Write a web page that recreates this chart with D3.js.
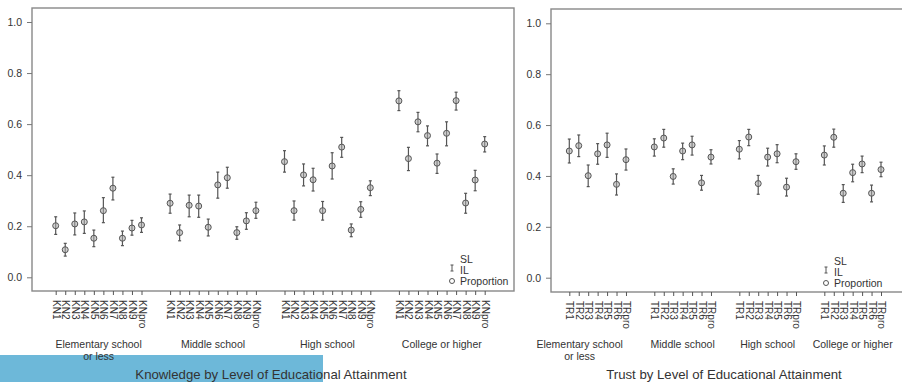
<!DOCTYPE html>
<html>
<head>
<meta charset="utf-8">
<script src="https://cdn.jsdelivr.net/npm/d3@7"></script>
<style>
  body { margin: 0; background: #fff; }
  svg text { font-family: "Liberation Sans", Arial, sans-serif; fill: #333; }
</style>
</head>
<body>
<div id="chart"></div>
<script>
// Groups and item names
const eduGroups = [["Elementary school", "or less"], ["Middle school"], ["High school"], ["College or higher"]];
const knItems = ["KN1", "KN2", "KN3", "KN4", "KN5", "KN6", "KN7", "KN8", "KN9", "KNpro"];
const trItems = ["TR1", "TR2", "TR3", "TR4", "TR5", "TR6", "TRpro"];
const yTicks = [0, 0.2, 0.4, 0.6, 0.8, 1.0];

// Knowledge: proportion, IL (lower) and SL (upper) per group
const knProp = [
    [0.202, 0.108, 0.209, 0.217, 0.153, 0.261, 0.349, 0.153, 0.193, 0.205],
    [0.290, 0.175, 0.282, 0.279, 0.196, 0.362, 0.390, 0.175, 0.221, 0.261],
    [0.453, 0.261, 0.401, 0.382, 0.261, 0.436, 0.510, 0.185, 0.266, 0.351],
    [0.691, 0.465, 0.609, 0.555, 0.447, 0.564, 0.692, 0.291, 0.381, 0.522]
];
const knLow = [
    [0.168, 0.083, 0.166, 0.172, 0.120, 0.214, 0.303, 0.124, 0.165, 0.176],
    [0.251, 0.143, 0.237, 0.235, 0.162, 0.310, 0.349, 0.149, 0.188, 0.231],
    [0.412, 0.224, 0.358, 0.338, 0.224, 0.385, 0.470, 0.159, 0.235, 0.320],
    [0.653, 0.418, 0.570, 0.515, 0.407, 0.515, 0.655, 0.251, 0.339, 0.491]
];
const knHigh = [
    [0.237, 0.133, 0.252, 0.260, 0.185, 0.312, 0.392, 0.181, 0.223, 0.233],
    [0.326, 0.205, 0.322, 0.322, 0.228, 0.412, 0.431, 0.198, 0.253, 0.294],
    [0.496, 0.299, 0.444, 0.427, 0.297, 0.488, 0.548, 0.209, 0.296, 0.378],
    [0.731, 0.509, 0.646, 0.593, 0.483, 0.609, 0.725, 0.329, 0.419, 0.551]
];

// Trust: proportion, IL and SL per group
const trProp = [
    [0.498, 0.519, 0.401, 0.487, 0.522, 0.367, 0.464],
    [0.514, 0.549, 0.398, 0.498, 0.522, 0.373, 0.474],
    [0.505, 0.553, 0.370, 0.474, 0.487, 0.356, 0.456],
    [0.482, 0.552, 0.332, 0.413, 0.447, 0.332, 0.425]
];
const trLow = [
    [0.451, 0.476, 0.358, 0.446, 0.473, 0.325, 0.423],
    [0.478, 0.513, 0.368, 0.464, 0.482, 0.344, 0.447],
    [0.467, 0.519, 0.328, 0.439, 0.452, 0.321, 0.426],
    [0.443, 0.513, 0.296, 0.377, 0.413, 0.298, 0.397]
];
const trHigh = [
    [0.545, 0.561, 0.443, 0.527, 0.568, 0.408, 0.506],
    [0.546, 0.583, 0.428, 0.529, 0.556, 0.402, 0.503],
    [0.539, 0.583, 0.402, 0.509, 0.523, 0.391, 0.487],
    [0.518, 0.584, 0.366, 0.446, 0.478, 0.364, 0.454]
];

const svg = d3.select("#chart").append("svg")
    .attr("width", 902)
    .attr("height", 382);

// blue band behind the left title
svg.append("rect")
    .attr("x", 0).attr("y", 355)
    .attr("width", 323).attr("height", 27)
    .attr("fill", "#6db8d9");

function drawPanel(p) {
    const n = p.items.length;
    const gap = 2;
    const rows = [];
    p.prop.forEach((vals, g) => {
        vals.forEach((v, i) => {
            rows.push({
                slot: g * (n + gap) + i,
                name: p.items[i],
                prop: v,
                lo: p.low[g][i],
                hi: p.high[g][i]
            });
        });
    });
    const lastSlot = (p.prop.length - 1) * (n + gap) + n - 1;

    const x = d3.scaleLinear().domain([0, lastSlot]).range([p.x0, p.x1]);
    const y = d3.scaleLinear().domain([0, 1]).range([p.y0, p.y1]);

    const g = svg.append("g");

    // frame
    g.append("rect")
        .attr("x", p.left).attr("y", p.top)
        .attr("width", p.right - p.left).attr("height", p.bottom - p.top)
        .attr("fill", "none")
        .attr("stroke", "#888")
        .attr("stroke-width", 1.4);

    // Y axis
    const yAxis = g.append("g")
        .attr("transform", `translate(${p.left},0)`)
        .call(d3.axisLeft(y).tickValues(yTicks).tickFormat(d3.format(".1f")).tickSize(5).tickPadding(5));
    yAxis.select(".domain").remove();
    yAxis.selectAll("line").attr("stroke", "#777");
    yAxis.selectAll("text").style("font-size", "10.5px").attr("fill", "#333");

    // X axis with rotated item labels
    const xAxis = g.append("g")
        .attr("transform", `translate(0,${p.bottom})`)
        .call(d3.axisBottom(x).tickValues(rows.map(d => d.slot)).tickSize(4)
            .tickFormat(s => rows.find(d => d.slot === s).name));
    xAxis.select(".domain").remove();
    xAxis.selectAll("line").attr("stroke", "#555");
    xAxis.selectAll("text")
        .attr("transform", "rotate(90)")
        .attr("x", 9).attr("y", 0).attr("dy", "0.35em")
        .attr("text-anchor", "start")
        .style("font-size", "10px")
        .attr("fill", "#333");

    // group labels
    eduGroups.forEach((lines, gi) => {
        const cx = (x(gi * (n + gap)) + x(gi * (n + gap) + n - 1)) / 2 + (gi === 0 ? p.firstShift : 0);
        const t = g.append("text")
            .attr("x", cx).attr("y", 348)
            .attr("text-anchor", "middle")
            .style("font-size", "10.5px");
        lines.forEach((ln, li) => {
            t.append("tspan").attr("x", cx).attr("dy", li === 0 ? 0 : 11.5).text(ln);
        });
    });

    // error bars
    const bars = g.append("g").selectAll("g.bar")
        .data(rows).enter().append("g");
    bars.append("line")
        .attr("x1", d => x(d.slot)).attr("x2", d => x(d.slot))
        .attr("y1", d => y(d.lo)).attr("y2", d => y(d.hi))
        .attr("stroke", "#555").attr("stroke-width", 1.2);
    bars.append("line")
        .attr("x1", d => x(d.slot) - 1.5).attr("x2", d => x(d.slot) + 1.5)
        .attr("y1", d => y(d.hi)).attr("y2", d => y(d.hi))
        .attr("stroke", "#555").attr("stroke-width", 1.2);
    bars.append("line")
        .attr("x1", d => x(d.slot) - 1.5).attr("x2", d => x(d.slot) + 1.5)
        .attr("y1", d => y(d.lo)).attr("y2", d => y(d.lo))
        .attr("stroke", "#555").attr("stroke-width", 1.2);
    bars.append("circle")
        .attr("cx", d => x(d.slot)).attr("cy", d => y(d.prop))
        .attr("r", 3)
        .attr("fill", "rgba(170,170,170,0.55)")
        .attr("stroke", "#555").attr("stroke-width", 1);

    // legend
    const lg = g.append("g");
    lg.append("line")
        .attr("x1", p.legX).attr("x2", p.legX)
        .attr("y1", p.legY + 5).attr("y2", p.legY + 11)
        .attr("stroke", "#555");
    [p.legY + 5, p.legY + 11].forEach(yy => {
        lg.append("line")
            .attr("x1", p.legX - 1.5).attr("x2", p.legX + 1.5)
            .attr("y1", yy).attr("y2", yy).attr("stroke", "#555");
    });
    lg.append("circle")
        .attr("cx", p.legX).attr("cy", p.legY + 21)
        .attr("r", 2.5)
        .attr("fill", "none").attr("stroke", "#555");
    ["SL", "IL", "Proportion"].forEach((s, i) => {
        lg.append("text")
            .attr("x", p.legX + 8).attr("y", p.legY + 3 + i * 11)
            .style("font-size", "10.5px")
            .text(s);
    });

    // panel title
    g.append("text")
        .attr("x", p.titleX).attr("y", 379)
        .attr("text-anchor", "middle")
        .style("font-size", "13.2px")
        .text(p.title);
}

drawPanel({
    items: knItems, prop: knProp, low: knLow, high: knHigh,
    left: 32, right: 514, top: 8, bottom: 291,
    x0: 55.7, x1: 484.7, y0: 277.3, y1: 22,
    firstShift: 0,
    legX: 452, legY: 260,
    titleX: 271,
    title: "Knowledge by Level of Educational Attainment"
});

drawPanel({
    items: trItems, prop: trProp, low: trLow, high: trHigh,
    left: 551, right: 905, top: 9, bottom: 292,
    x0: 569.3, x1: 881, y0: 277.7, y1: 23.3,
    firstShift: -18,
    legX: 826, legY: 262,
    titleX: 724,
    title: "Trust by Level of Educational Attainment"
});
</script>
</body>
</html>
